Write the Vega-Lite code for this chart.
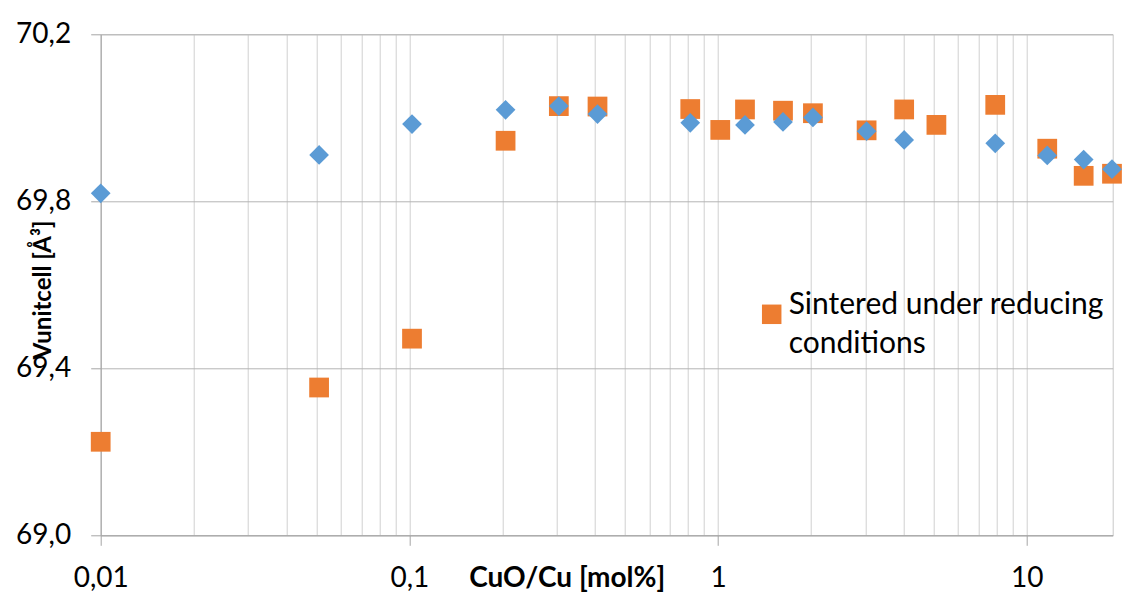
{
  "$schema": "https://vega.github.io/schema/vega-lite/v6.json",
  "width": 1012,
  "height": 501,
  "autosize": {"type": "none"},
  "padding": {"left": 100.7, "top": 34.3, "right": 20.3, "bottom": 56.7},
  "background": "white",
  "config": {
    "font": "Lato",
    "view": {"stroke": "#c8c8c8", "strokeWidth": 1},
    "style": {"guide-label": {"lineHeight": 39}}
  },
  "data": {
    "values": [
      {"cuo": 0.01, "v": 69.224, "series": "Sintered under reducing conditions"},
      {"cuo": 0.051, "v": 69.354, "series": "Sintered under reducing conditions"},
      {"cuo": 0.102, "v": 69.471, "series": "Sintered under reducing conditions"},
      {"cuo": 0.205, "v": 69.945, "series": "Sintered under reducing conditions"},
      {"cuo": 0.305, "v": 70.028, "series": "Sintered under reducing conditions"},
      {"cuo": 0.407, "v": 70.027, "series": "Sintered under reducing conditions"},
      {"cuo": 0.813, "v": 70.021, "series": "Sintered under reducing conditions"},
      {"cuo": 1.017, "v": 69.971, "series": "Sintered under reducing conditions"},
      {"cuo": 1.223, "v": 70.02, "series": "Sintered under reducing conditions"},
      {"cuo": 1.624, "v": 70.017, "series": "Sintered under reducing conditions"},
      {"cuo": 2.03, "v": 70.011, "series": "Sintered under reducing conditions"},
      {"cuo": 3.03, "v": 69.97, "series": "Sintered under reducing conditions"},
      {"cuo": 4.01, "v": 70.02, "series": "Sintered under reducing conditions"},
      {"cuo": 5.1, "v": 69.983, "series": "Sintered under reducing conditions"},
      {"cuo": 7.91, "v": 70.031, "series": "Sintered under reducing conditions"},
      {"cuo": 11.66, "v": 69.926, "series": "Sintered under reducing conditions"},
      {"cuo": 15.3, "v": 69.861, "series": "Sintered under reducing conditions"},
      {"cuo": 18.9, "v": 69.866, "series": "Sintered under reducing conditions"},
      {"cuo": 0.01, "v": 69.819, "series": "Sintered in air"},
      {"cuo": 0.051, "v": 69.911, "series": "Sintered in air"},
      {"cuo": 0.102, "v": 69.985, "series": "Sintered in air"},
      {"cuo": 0.205, "v": 70.019, "series": "Sintered in air"},
      {"cuo": 0.305, "v": 70.028, "series": "Sintered in air"},
      {"cuo": 0.407, "v": 70.009, "series": "Sintered in air"},
      {"cuo": 0.813, "v": 69.988, "series": "Sintered in air"},
      {"cuo": 1.223, "v": 69.983, "series": "Sintered in air"},
      {"cuo": 1.624, "v": 69.99, "series": "Sintered in air"},
      {"cuo": 2.03, "v": 70.001, "series": "Sintered in air"},
      {"cuo": 3.03, "v": 69.968, "series": "Sintered in air"},
      {"cuo": 4.01, "v": 69.947, "series": "Sintered in air"},
      {"cuo": 7.91, "v": 69.939, "series": "Sintered in air"},
      {"cuo": 11.66, "v": 69.91, "series": "Sintered in air"},
      {"cuo": 15.3, "v": 69.9, "series": "Sintered in air"},
      {"cuo": 18.9, "v": 69.877, "series": "Sintered in air"}
    ]
  },
  "mark": {"type": "point", "filled": true, "opacity": 1, "size": 390, "strokeWidth": 0, "clip": false},
  "encoding": {
    "x": {
      "field": "cuo",
      "type": "quantitative",
      "scale": {"type": "log", "domain": [0.01, 19], "nice": false},
      "axis": {
        "values": [0.01, 0.02, 0.03, 0.04, 0.05, 0.06, 0.07, 0.08, 0.09, 0.1, 0.2, 0.3, 0.4, 0.5, 0.6, 0.7, 0.8, 0.9, 1, 2, 3, 4, 5, 6, 7, 8, 9, 10],
        "labelExpr": "datum.value == 0.01 ? '0,01' : datum.value == 0.1 ? '0,1' : datum.value == 1 ? '1' : datum.value == 10 ? '10' : ''",
        "labelOverlap": false,
        "labelFlush": false,
        "labelBound": false,
        "labelFont": "Lato",
        "labelFontSize": 28,
        "labelColor": "#000000",
        "labelPadding": 19,
        "tickSize": 10,
        "tickColor": {"condition": {"test": "datum.value == 0.01 || datum.value == 0.1 || datum.value == 1 || datum.value == 10", "value": "#a6a6a6"}, "value": "transparent"},
        "grid": true,
        "gridColor": "#d0d0d0",
        "gridWidth": 1,
        "domainColor": "#a6a6a6",
        "title": "CuO/Cu [mol%]",
        "titleFont": "Lato",
        "titleFontSize": 28,
        "titleFontWeight": "bold",
        "titleColor": "#000000",
        "titleX": 466,
        "titleY": 51,
        "titleBaseline": "alphabetic",
        "titleAlign": "center"
      }
    },
    "y": {
      "field": "v",
      "type": "quantitative",
      "scale": {"domain": [69, 70.2], "nice": false, "zero": false},
      "axis": {
        "values": [69, 69.4, 69.8, 70.2],
        "labelExpr": "replace(format(datum.value, '.1f'), '.', ',')",
        "labelFlush": false,
        "labelFont": "Lato",
        "labelFontSize": 28,
        "labelColor": "#000000",
        "labelPadding": 20,
        "labelBaseline": "middle",
        "tickSize": 10,
        "tickColor": "#a6a6a6",
        "grid": true,
        "gridColor": "#b4b4b4",
        "gridWidth": 1,
        "domainColor": "#a6a6a6",
        "title": "Vunitcell [Å³]",
        "titleFont": "Lato",
        "titleFontSize": 24,
        "titleFontWeight": "bold",
        "titleColor": "#000000",
        "titleAngle": -90,
        "titleX": -50,
        "titleY": 255,
        "titleBaseline": "alphabetic",
        "titleAlign": "center"
      }
    },
    "color": {
      "field": "series",
      "type": "nominal",
      "scale": {"domain": ["Sintered under reducing conditions", "Sintered in air"], "range": ["#ED7D31", "#5B9BD5"]},
      "legend": {
        "values": ["Sintered under reducing conditions"],
        "title": null,
        "orient": "none",
        "legendX": 656,
        "legendY": 265,
        "padding": 0,
        "symbolType": "square",
        "symbolSize": 380,
        "symbolStrokeWidth": 0,
        "symbolOpacity": 1,
        "labelFont": "Lato",
        "labelFontSize": 30,
        "labelColor": "#000000",
        "labelLimit": 0,
        "labelExpr": "['Sintered under reducing', 'conditions']",
        "labelBaseline": "alphabetic",
        "labelOffset": 2
      }
    },
    "shape": {
      "field": "series",
      "type": "nominal",
      "scale": {"domain": ["Sintered under reducing conditions", "Sintered in air"], "range": ["square", "diamond"]},
      "legend": null
    }
  }
}
